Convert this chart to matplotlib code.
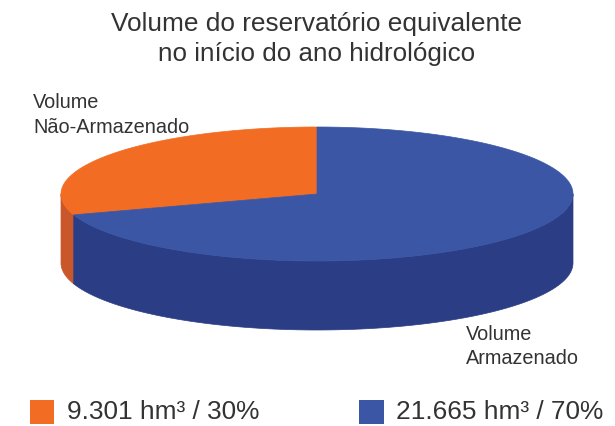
import numpy as np
import matplotlib
matplotlib.use("Agg")
import matplotlib.pyplot as plt
from matplotlib.patches import Polygon, Rectangle

title_lines = ["Volume do reservatório equivalente", "no início do ano hidrológico"]
categories = ["Volume\nNão-Armazenado", "Volume\nArmazenado"]
values = [9301, 21665]
legend_labels = ["9.301 hm³ / 30%", "21.665 hm³ / 70%"]
top_colors = ["#F26C23", "#3A56A5"]
side_colors = ["#C9572A", "#2B3D85"]

plt.rcParams['font.family'] = ['Liberation Sans', 'DejaVu Sans']
W, H = 615, 426
fig = plt.figure(figsize=(W/100, H/100), dpi=100)
ax = fig.add_axes([0, 0, 1, 1])
ax.set_xlim(0, W); ax.set_ylim(H, 0); ax.axis("off")

cx, cy, rx, ry, depth = 317, 194, 256, 67, 69
def pt(t):
    t = np.radians(t)
    return cx + rx*np.cos(t), cy - ry*np.sin(t)

shares = np.array(values) / sum(values)
a0 = 90
a1 = a0 + 360*shares[0]
a2 = a1 + 360*shares[1]

def side(t0, t1, color):
    t = np.linspace(t0, t1, 100)
    x, y = pt(t)
    xy = np.r_[np.c_[x, y], np.c_[x[::-1], y[::-1] + depth]]
    ax.add_patch(Polygon(xy, closed=True, fc=color, ec=color, lw=0.5))

side(180, a1, side_colors[0])
side(a1, 360, side_colors[1])

def wedge(t0, t1, color):
    t = np.linspace(t0, t1, 300)
    x, y = pt(t)
    xy = np.r_[[[cx, cy]], np.c_[x, y]]
    ax.add_patch(Polygon(xy, closed=True, fc=color, ec=color, lw=0.5))

wedge(a0, a1, top_colors[0])
wedge(a1, a2, top_colors[1])

tc = "#333333"
ax.text(316.5, 31, title_lines[0], ha="center", va="baseline", fontsize=18.9, color=tc)
ax.text(317, 61, title_lines[1], ha="center", va="baseline", fontsize=18.7, color=tc)
ax.text(33, 115, categories[0], ha="left", va="center", fontsize=14.3, color=tc, linespacing=1.35)
ax.text(466, 346.5, categories[1], ha="left", va="center", fontsize=14.3, color=tc, linespacing=1.3)

ax.add_patch(Rectangle((30, 400), 24, 24, fc=top_colors[0], ec="none"))
ax.add_patch(Rectangle((359, 400), 25, 24, fc=top_colors[1], ec="none"))
ax.text(67, 419, legend_labels[0], ha="left", va="baseline", fontsize=18.9, color=tc)
ax.text(396, 419, legend_labels[1], ha="left", va="baseline", fontsize=18.9, color=tc)

fig.savefig("out.png", dpi=100)
